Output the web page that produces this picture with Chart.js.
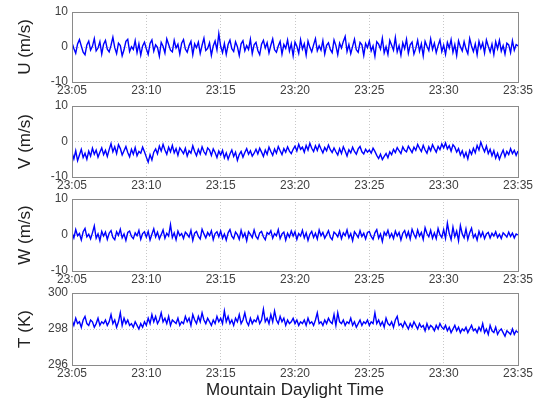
<!DOCTYPE html>
<html>
<head>
<meta charset="utf-8">
<title>Wind and temperature</title>
<script src="https://cdn.jsdelivr.net/npm/chart.js@4"></script>
<style>
    body { margin: 0; background: #fff; }
    #wrap { position: relative; width: 536px; height: 403px; }
    #wrap canvas { position: absolute; left: 0; top: 0; }
</style>
</head>
<body>
<div id="wrap">
    <canvas id="panelU" width="536" height="403"></canvas>
    <canvas id="panelV" width="536" height="403"></canvas>
    <canvas id="panelW" width="536" height="403"></canvas>
    <canvas id="panelT" width="536" height="403"></canvas>
</div>
<script>
//--- Data (one sample every 7.5 s, 23:05 -> 23:35, one row = 2.5 min)
var timeLabels = ['23:05', '23:10', '23:15', '23:20', '23:25', '23:30', '23:35'];
var windTicks = [-10, 0, 10];
var tempTicks = [296, 298, 300];

var uValues = [
    1.2,-0.4,-1.8,0.9,2.1,0.3,-1.5,-2.2,0.6,1.7,-0.9,0.2,2.4,-1.1,-0.3,1.5,-2.0,0.8,1.9,-0.6,
    -1.4,0.5,2.8,-0.2,-1.9,1.1,0.4,-2.5,-0.8,1.6,2.2,-1.3,0.1,-0.7,1.8,-1.6,0.9,-2.3,0.3,1.4,
    -0.5,-2.1,1.0,2.0,-1.2,0.6,-0.1,-2.6,1.3,0.2,-1.7,2.3,0.7,-0.9,-1.4,1.9,-0.3,0.8,-2.0,1.1,
    2.1,-0.6,-1.5,0.4,1.6,-2.2,0.9,-0.2,1.4,-1.8,0.5,2.5,-1.0,-0.4,1.2,-2.4,0.3,1.7,-0.8,3.8,
    0.2,-1.6,1.0,-2.1,0.7,2.0,-0.5,-1.3,1.5,0.1,-2.4,0.9,1.8,-1.1,0.4,-0.7,2.2,-1.9,0.6,1.3,
    -1.0,-2.2,0.8,1.9,-0.3,1.2,-1.7,0.5,2.3,-0.8,-1.5,0.3,1.6,-2.0,0.7,-0.4,2.0,-1.2,0.9,-2.5,
    1.4,0.2,-1.8,2.1,-0.6,0.9,-2.3,1.7,-0.1,-1.4,0.6,2.4,-1.1,0.3,-0.9,1.8,-2.0,0.5,1.2,-0.7,
    -1.6,2.0,0.4,-2.2,1.1,-0.3,1.6,3.0,-1.3,0.7,-1.9,0.2,2.2,-0.8,-1.5,1.3,0.6,-2.4,1.0,-0.2,
    1.7,-1.1,0.3,-2.6,1.5,0.8,-0.6,2.5,-1.7,0.1,-2.1,1.9,0.5,-0.9,2.7,-1.4,0.4,-2.3,1.2,-0.5,
    2.2,-1.8,0.6,1.4,-2.0,-0.4,1.9,-1.2,0.9,-2.5,1.6,0.2,-1.0,2.3,-0.7,1.1,-1.6,0.4,2.0,-1.3,
    0.5,-2.1,1.3,-0.3,2.1,-1.5,0.7,-2.4,1.8,0.1,-1.1,1.5,-0.6,-1.9,2.4,0.3,-1.3,0.9,-2.2,1.6,
    -0.4,1.2,-1.7,2.0,0.2,-1.4,0.8,-2.1,1.5,-0.5,1.9,-1.2,0.4,-2.0,1.1,0.6,-1.6,1.8,-0.9,0.7,
    0.3
];
var vValues = [
    -3.1,-4.9,-2.6,-5.4,-3.8,-2.2,-4.5,-3.3,-5.0,-2.7,-4.1,-1.9,-3.6,-2.4,-4.4,-3.0,-1.8,-3.7,-2.5,-4.2,
    -2.3,-0.6,-2.9,-1.5,-3.4,-0.9,-2.0,-3.8,-2.6,-1.4,-3.1,-4.3,-2.2,-3.6,-1.7,-4.0,-2.8,-3.3,-1.6,-2.9,
    -4.4,-5.8,-3.7,-5.2,-3.0,-2.1,-3.5,-1.3,-2.7,-0.8,-2.4,-3.6,-1.6,-2.9,-1.1,-3.2,-2.0,-3.9,-1.8,-2.6,
    -3.4,-1.9,-4.1,-2.6,-3.3,-1.2,-2.8,-4.0,-2.2,-3.5,-1.5,-2.9,-3.7,-1.8,-2.4,-3.9,-2.1,-3.1,-4.5,-2.7,
    -3.8,-2.5,-4.6,-3.2,-5.0,-3.5,-2.4,-4.2,-3.0,-5.3,-3.7,-2.8,-4.4,-3.1,-2.0,-3.6,-2.6,-4.1,-3.3,-2.2,
    -3.5,-1.9,-3.0,-4.2,-2.4,-3.6,-1.6,-2.8,-3.9,-2.1,-3.3,-1.4,-2.6,-3.7,-2.0,-3.0,-1.5,-2.7,-3.4,-2.2,
    -1.3,-2.7,-0.8,-2.2,-1.6,-3.0,-1.1,-2.4,-0.5,-1.9,-2.8,-1.2,-2.5,-0.9,-2.1,-3.2,-1.7,-2.6,-1.0,-2.3,
    -3.1,-1.8,-2.9,-3.8,-2.0,-3.4,-1.5,-2.7,-4.1,-2.3,-3.2,-1.6,-2.8,-3.6,-2.1,-1.4,-2.9,-3.5,-2.2,-3.0,
    -2.4,-3.3,-1.9,-2.8,-3.9,-4.8,-3.6,-5.1,-4.2,-3.4,-4.6,-2.9,-3.7,-2.2,-3.1,-1.7,-2.6,-3.4,-1.5,-2.5,
    -2.9,-1.3,-2.2,-3.1,-1.6,-2.5,-0.8,-1.9,-2.8,-1.1,-2.4,-3.3,-1.5,-2.6,-0.9,-2.0,-3.0,-1.4,-2.3,-0.7,
    -1.8,-0.4,-2.1,-1.2,-2.7,-0.9,-1.6,-3.0,-2.0,-3.8,-2.6,-4.4,-3.1,-4.9,-2.5,-3.6,-1.9,-3.2,-1.1,-2.4,
    -0.2,-1.7,-2.9,-1.3,-3.4,-2.2,-4.0,-2.6,-4.7,-3.3,-5.0,-3.6,-2.4,-4.3,-2.8,-3.7,-2.0,-3.4,-2.5,-3.9,
    -2.7
];
var wValues = [
    0.7,-0.8,1.5,-0.2,0.4,-1.4,0.9,1.8,-0.5,0.2,-1.1,0.6,2.5,-0.9,0.3,-1.6,1.0,-0.3,0.8,-1.2,
    0.5,1.2,-0.7,-1.3,0.9,-0.1,1.6,-0.8,0.3,-1.5,0.7,1.1,-0.4,-1.0,0.6,-0.2,1.3,-1.2,0.4,0.9,
    -0.6,1.0,-1.4,0.2,1.7,-0.5,0.8,-1.1,0.1,1.4,-0.9,0.5,-0.3,2.9,-0.7,0.6,-1.3,1.1,-0.2,0.4,
    -1.0,0.8,0.2,-0.6,1.3,-1.5,0.5,1.0,-0.4,-1.1,1.6,0.3,-0.8,0.7,-0.2,1.2,-1.3,0.4,0.9,-0.5,
    1.1,-0.9,0.3,-1.4,0.6,1.5,-0.3,-1.0,0.8,0.1,-1.2,1.3,-0.6,0.5,-1.6,0.9,0.2,-0.7,1.4,-0.4,
    -1.1,0.6,1.0,-0.5,-1.3,0.7,0.2,1.2,-0.9,0.4,-0.2,1.5,-1.0,0.3,0.8,-1.4,0.5,-0.6,1.1,-0.3,
    0.9,-1.2,0.4,-0.3,1.3,-0.8,0.6,-1.5,0.2,1.0,-0.7,0.5,-1.1,1.4,-0.2,0.7,-0.9,0.1,1.2,-0.6,
    -1.3,0.8,0.3,-0.5,1.1,-1.0,0.6,-0.2,1.4,-0.8,0.4,-1.6,0.9,0.2,-0.7,1.2,-0.4,0.5,-1.1,0.7,
    1.0,-0.4,-1.2,0.6,1.5,-0.9,0.3,-1.8,0.8,-0.1,1.3,-0.7,0.4,-1.0,1.1,-0.3,0.7,-1.4,0.5,1.2,
    -0.6,0.9,-1.1,1.6,0.2,-0.8,1.4,-0.3,0.7,-1.2,2.0,0.4,-0.5,1.3,-0.9,0.6,-1.0,1.8,0.1,-0.7,
    1.5,-0.9,3.3,0.4,-1.3,2.2,-0.5,1.1,-1.6,2.6,0.3,-0.8,1.7,-1.2,0.6,1.9,-0.7,0.2,-1.4,1.0,
    -0.5,0.8,-1.0,0.3,0.7,-0.8,0.5,-0.3,0.9,-0.7,0.2,-1.0,0.6,0.1,-0.6,0.8,-0.4,0.5,-0.8,0.3,
    0.0
];
var tValues = [
    298.5,298.2,298.6,298.3,298.4,298.1,298.5,298.7,298.3,298.2,298.5,298.4,298.1,298.3,298.6,298.2,298.4,298.3,298.5,298.2,
    298.4,298.8,298.3,298.5,298.1,298.4,298.9,298.2,298.6,298.3,298.5,298.2,298.3,298.1,298.4,298.2,298.0,298.3,298.1,298.4,
    298.2,298.6,298.3,298.8,298.4,298.7,298.3,298.5,298.9,298.4,298.6,298.3,298.7,298.2,298.5,298.4,298.3,298.6,298.2,298.4,
    298.3,298.7,298.4,298.6,298.2,298.8,298.5,298.3,298.7,298.4,298.9,298.5,298.3,298.6,298.4,298.2,298.5,298.3,298.7,298.4,
    298.6,298.3,299.0,298.4,298.7,298.3,298.5,298.2,298.6,298.4,298.8,298.3,298.5,298.9,298.4,298.2,298.6,298.3,298.5,298.4,
    298.7,298.3,298.5,299.1,298.4,298.6,298.3,298.8,298.4,299.0,298.5,298.3,298.7,298.4,298.6,298.2,298.5,298.3,298.4,298.6,
    298.3,298.5,298.2,298.4,298.3,298.5,298.2,298.6,298.3,298.4,298.2,298.5,298.9,298.3,298.4,298.2,298.5,298.3,298.6,298.4,
    298.3,298.8,298.2,298.9,298.4,298.3,298.5,298.2,298.4,298.3,298.6,298.2,298.4,298.1,298.3,298.5,298.2,298.4,298.3,298.5,
    298.2,298.4,298.3,298.9,298.3,298.5,298.2,298.4,298.1,298.6,298.3,298.2,298.4,298.1,298.5,298.7,298.2,298.3,298.1,298.4,
    298.2,298.0,298.3,298.1,298.4,298.2,298.0,298.3,298.1,298.2,297.9,298.3,298.0,298.2,298.1,297.9,298.2,298.0,298.3,298.1,
    298.0,298.2,297.9,298.1,297.8,298.0,298.2,297.9,298.1,297.8,298.0,297.9,298.1,297.8,298.0,298.2,297.9,298.0,297.8,298.1,
    297.9,298.3,297.8,298.0,297.7,298.2,297.9,297.8,298.1,297.7,297.9,298.0,297.8,297.6,297.9,297.8,297.7,298.0,297.7,297.9,
    297.8
];

//--- Styling
var fontFamily = '"Liberation Sans", Arial, sans-serif';
var tickColor = '#404040';
var gridColor = '#c8c8c8';
var frameColor = '#8a8a8a';

// box round the plot area (top and right sides too)
var framePlugin = {
    id: 'frame',
    afterDatasetsDraw: function (chart) {
        var a = chart.chartArea;
        var ctx = chart.ctx;
        ctx.save();
        ctx.strokeStyle = frameColor;
        ctx.lineWidth = 1;
        ctx.strokeRect(Math.round(a.left) + 0.5, Math.round(a.top) + 0.5,
            Math.round(a.right - a.left), Math.round(a.bottom - a.top));
        ctx.restore();
    }
};

// values -> {x: minutes after 23:05, y}
function toPoints(values) {
    var step = 30 / (values.length - 1);
    return values.map(function (v, i) { return { x: i * step, y: v }; });
}

function makePanel(id, values, yTitle, yTicks, top, bottom, xTitle) {
    var xHeight = xTitle ? 38 : 18;
    return new Chart(document.getElementById(id), {
        type: 'line',
        data: {
            datasets: [{
                data: toPoints(values),
                borderColor: '#0000ff',
                borderWidth: 1.4,
                pointRadius: 0,
                tension: 0
            }]
        },
        options: {
            responsive: false,
            animation: false,
            events: [],
            layout: { padding: { left: 0, right: 18, top: top, bottom: 403 - bottom - xHeight } },
            plugins: { legend: { display: false }, tooltip: { enabled: false } },
            scales: {
                x: {
                    type: 'linear',
                    min: 0,
                    max: 30,
                    afterBuildTicks: function (scale) {
                        scale.ticks = timeLabels.map(function (t, i) { return { value: i * 5 }; });
                    },
                    afterFit: function (scale) { scale.height = xHeight; },
                    ticks: {
                        autoSkip: false,
                        maxRotation: 0,
                        padding: 1,
                        color: tickColor,
                        font: { family: fontFamily, size: 12 },
                        callback: function (v, i) { return timeLabels[i]; }
                    },
                    grid: { color: gridColor, drawTicks: false },
                    border: { display: false, dash: [1, 2] },
                    title: {
                        display: !!xTitle,
                        text: xTitle || '',
                        color: '#222',
                        padding: { top: 0, bottom: 2 },
                        font: { family: fontFamily, size: 17 }
                    }
                },
                y: {
                    min: yTicks[0],
                    max: yTicks[yTicks.length - 1],
                    afterBuildTicks: function (scale) {
                        scale.ticks = yTicks.map(function (v) { return { value: v }; });
                    },
                    afterFit: function (scale) { scale.width = 72; },
                    ticks: {
                        padding: 4,
                        color: tickColor,
                        font: { family: fontFamily, size: 12 }
                    },
                    grid: { color: gridColor, drawTicks: false },
                    border: { display: false, dash: [1, 2] },
                    title: {
                        display: true,
                        text: yTitle,
                        color: '#222',
                        padding: { top: 15, bottom: 0 },
                        font: { family: fontFamily, size: 17 }
                    }
                }
            }
        },
        plugins: [framePlugin]
    });
}

makePanel('panelU', uValues, 'U (m/s)', windTicks, 12, 82);
makePanel('panelV', vValues, 'V (m/s)', windTicks, 106, 177);
makePanel('panelW', wValues, 'W (m/s)', windTicks, 199, 271);
makePanel('panelT', tValues, 'T (K)', tempTicks, 293, 365, 'Mountain Daylight Time');
</script>
</body>
</html>
